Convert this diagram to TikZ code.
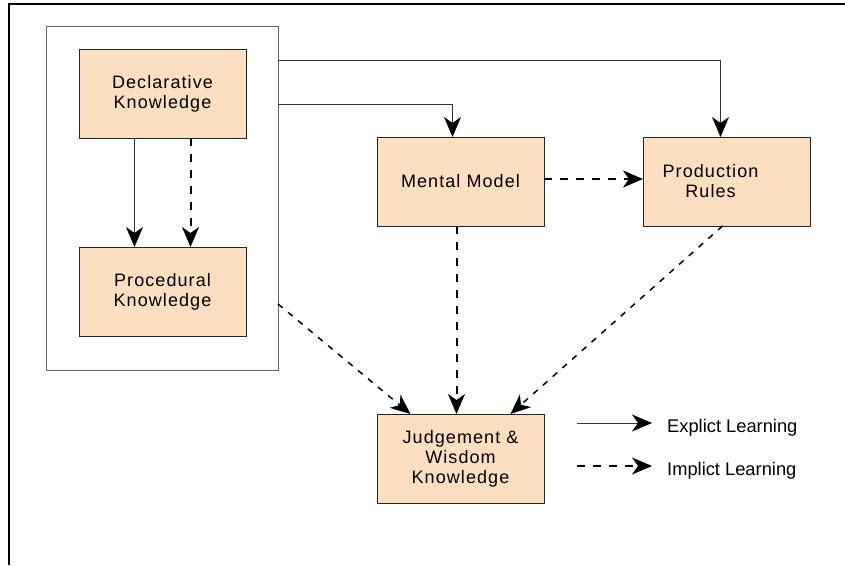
\documentclass[tikz,border=0pt]{standalone}
\usepackage{fontspec}
\setmainfont{Liberation Sans}
\usetikzlibrary{positioning,arrows.meta}
\definecolor{peach}{RGB}{252,222,192}
\tikzset{
	kbox/.style={draw=black!85,fill=peach,line width=0.9pt,minimum width=167pt,minimum height=89pt,
		outer sep=0pt,align=center,font=\fontsize{18}{20}\selectfont\addfontfeature{LetterSpace=6}},
	grpbox/.style={draw=black!60,line width=1pt,minimum width=232pt,minimum height=344pt,outer sep=0pt},
	legtext/.style={anchor=west,inner sep=0pt,font=\fontsize{18.3}{20}\selectfont},
	tip/.style={-{Stealth[length=20pt,width=17pt,inset=6pt,color=black]}},
	expl/.style={tip,draw=black!80,line width=0.9pt},
	impl/.style={tip,line width=2pt,dash pattern=on 8pt off 8pt},
	dimpl/.style={tip,line width=1.5pt,dash pattern=on 6pt off 7pt}
}
\begin{document}
\begin{tikzpicture}[x=1pt,y=-1pt]
	\useasboundingbox (0,0) rectangle (845,565);
	\draw[line width=1.3pt] (845,4) -- (9,4) -- (9,565);
	\node[grpbox] (grp) at (162,198) {};
	\node[kbox] (decl) at (162.5,93.5) {Declarative\\Knowledge};
	\node[kbox,below=109pt of decl] (proc) {Procedural\\Knowledge};
	\node[kbox] (mm) at (460.5,181.5) {Mental Model};
	\node[kbox,right=99pt of mm,label={[kbox,draw=none,fill=none,minimum size=0pt,xshift=-16pt]center:Production\\Rules}] (prod) {};
	\node[kbox,below=188pt of mm] (jw) {Judgement \&\\Wisdom\\Knowledge};
	% explicit
	\draw[expl] ([yshift=-34.5pt]grp.north east) -| ([xshift=-6pt]prod.north);
	\draw[expl] ([yshift=-78.5pt]grp.north east) -| ([xshift=-8pt]mm.north);
	\draw[expl] ([xshift=-28pt]decl.south) -- ([xshift=-28pt]proc.north);
	% implicit
	\draw[impl] ([xshift=28pt]decl.south) -- ([xshift=28pt]proc.north);
	\draw[impl] ([yshift=2.5pt]mm.east) -- ([yshift=2.5pt]prod.west);
	\draw[impl] ([xshift=-4pt]mm.south) -- ([xshift=-4pt]jw.north);
	\draw[dimpl] ([xshift=-4pt]prod.south) -- ([xshift=50pt]jw.north);
	\draw[dimpl] ([yshift=-278pt]grp.north east) -- ([xshift=-50pt]jw.north);
	% legend
	\node[legtext] (lexp) at (667,428) {Explict Learning};
	\node[legtext] (limp) at (667,471) {Implict Learning};
	\draw[expl] ([xshift=-90pt,yshift=5pt]lexp.west) -- ([xshift=-15pt,yshift=5pt]lexp.west);
	\draw[impl] ([xshift=-90pt,yshift=5pt]limp.west) -- ([xshift=-15pt,yshift=5pt]limp.west);
\end{tikzpicture}
\end{document}
